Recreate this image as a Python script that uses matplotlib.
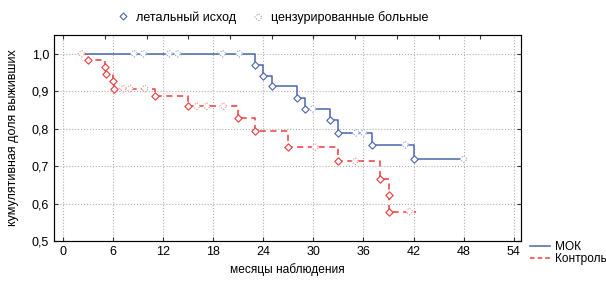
import numpy as np
import matplotlib.pyplot as plt
from matplotlib.lines import Line2D

plt.rcParams['font.family'] = ['Liberation Sans', 'DejaVu Sans']
plt.rcParams['font.size'] = 9

# MOK group (blue)
mok_start = 2.5
mok_end = 48.0
mok_times = [23.0, 24.0, 25.0, 28.0, 29.0, 32.0, 33.0, 37.0, 42.0]
mok_surv = [0.971, 0.941, 0.913, 0.882, 0.853, 0.822, 0.789, 0.757, 0.719]
mok_cens = [8.5, 9.6, 12.7, 13.7, 19.1, 21.1, 29.9, 35.1, 36.0, 41.0, 48.0]

# Control group (red)
ctl_start = 2.0
ctl_end = 42.3
ctl_times = [3.0, 5.0, 5.1, 6.0, 6.1, 11.0, 15.0, 21.0, 23.0, 27.0, 33.0, 38.0, 39.0, 39.1]
ctl_surv = [0.982, 0.964, 0.946, 0.926, 0.907, 0.886, 0.860, 0.829, 0.793, 0.751,
            0.713, 0.666, 0.622, 0.579]
ctl_cens = [2.2, 7.2, 8.0, 9.8, 16.0, 17.2, 19.2, 30.2, 35.0, 41.5]

BLUE = '#4a64b0'
RED = '#f03a3a'
BLUE_L = '#8ea0d8'
RED_L = '#f58a8a'


def level_at(times, surv, t):
    i = np.searchsorted(times, t, side='right')
    return 1.0 if i == 0 else surv[i - 1]


def km_plot(ax, start, end, times, surv, cens, color, light, ls):
    x = [start] + times + [end]
    y = [1.0] + surv + [surv[-1]]
    ax.step(x, y, where='post', color=color, lw=1.1, ls=ls, zorder=3)
    ax.scatter(times, surv, marker='D', s=14, facecolor='white',
               edgecolor=color, linewidths=0.8, zorder=4)
    cy = [level_at(times, surv, t) for t in cens]
    ax.scatter(cens, cy, marker='D', s=14, facecolor='white',
               edgecolor=light, linewidths=0.8, linestyle=':', zorder=4)


fig = plt.figure(figsize=(6.06, 2.84), dpi=100)
ax = fig.add_axes([0.089, 0.151, 0.771, 0.726])

km_plot(ax, mok_start, mok_end, mok_times, mok_surv, mok_cens, BLUE, BLUE_L, '-')
km_plot(ax, ctl_start, ctl_end, ctl_times, ctl_surv, ctl_cens, RED, RED_L, (0, (4, 3)))

ax.set_xlim(-1.1, 54.9)
ax.set_ylim(0.5, 1.05)
ax.set_xticks(np.arange(0, 55, 6))
ax.set_yticks([0.5, 0.6, 0.7, 0.8, 0.9, 1.0])
ax.set_yticklabels(['0,5', '0,6', '0,7', '0,8', '0,9', '1,0'])
ax.grid(True, color='#b0b0b0', ls=':', lw=0.8)
ax.tick_params(direction='in', length=3, right=True, color='#333333', labelsize=9)
for s in ax.spines.values():
    s.set_color('#444444')

# top axis ticks every 5 months
top = ax.twiny()
top.set_xlim(ax.get_xlim())
top.set_xticks(np.arange(0, 55, 5))
top.set_xticklabels([])
top.tick_params(direction='in', length=3, color='#333333')

ax.set_xlabel('месяцы наблюдения', labelpad=4, fontsize=8.6)
ax.set_ylabel('кумулятивная доля выживших', labelpad=9, fontsize=9)

# legend of markers on top
h1 = Line2D([], [], marker='D', ls='none', markersize=3.5, markerfacecolor='white',
            markeredgecolor=BLUE, markeredgewidth=0.8)
h2 = ax.scatter([], [], marker='D', s=14, facecolor='white', edgecolor=BLUE_L,
                linewidths=0.8, linestyle=':')
fig.legend([h1, h2], ['летальный исход', 'цензурированные больные'], ncol=2,
           loc='center', bbox_to_anchor=(0.45, 0.94), frameon=False,
           handlelength=1.0, handletextpad=0.5, columnspacing=1.3, fontsize=9)

# legend of lines lower right
h3 = Line2D([], [], color=BLUE, lw=1.1)
h4 = Line2D([], [], color=RED, lw=1.1, ls=(0, (3, 2)))
fig.legend([h3, h4], ['МОК', 'Контроль'], loc='upper left',
           bbox_to_anchor=(0.865, 0.172), frameon=False, handlelength=1.7,
           handletextpad=0.4, labelspacing=-0.02, fontsize=8.6, borderpad=0)

fig.savefig('out.png', dpi=100)
